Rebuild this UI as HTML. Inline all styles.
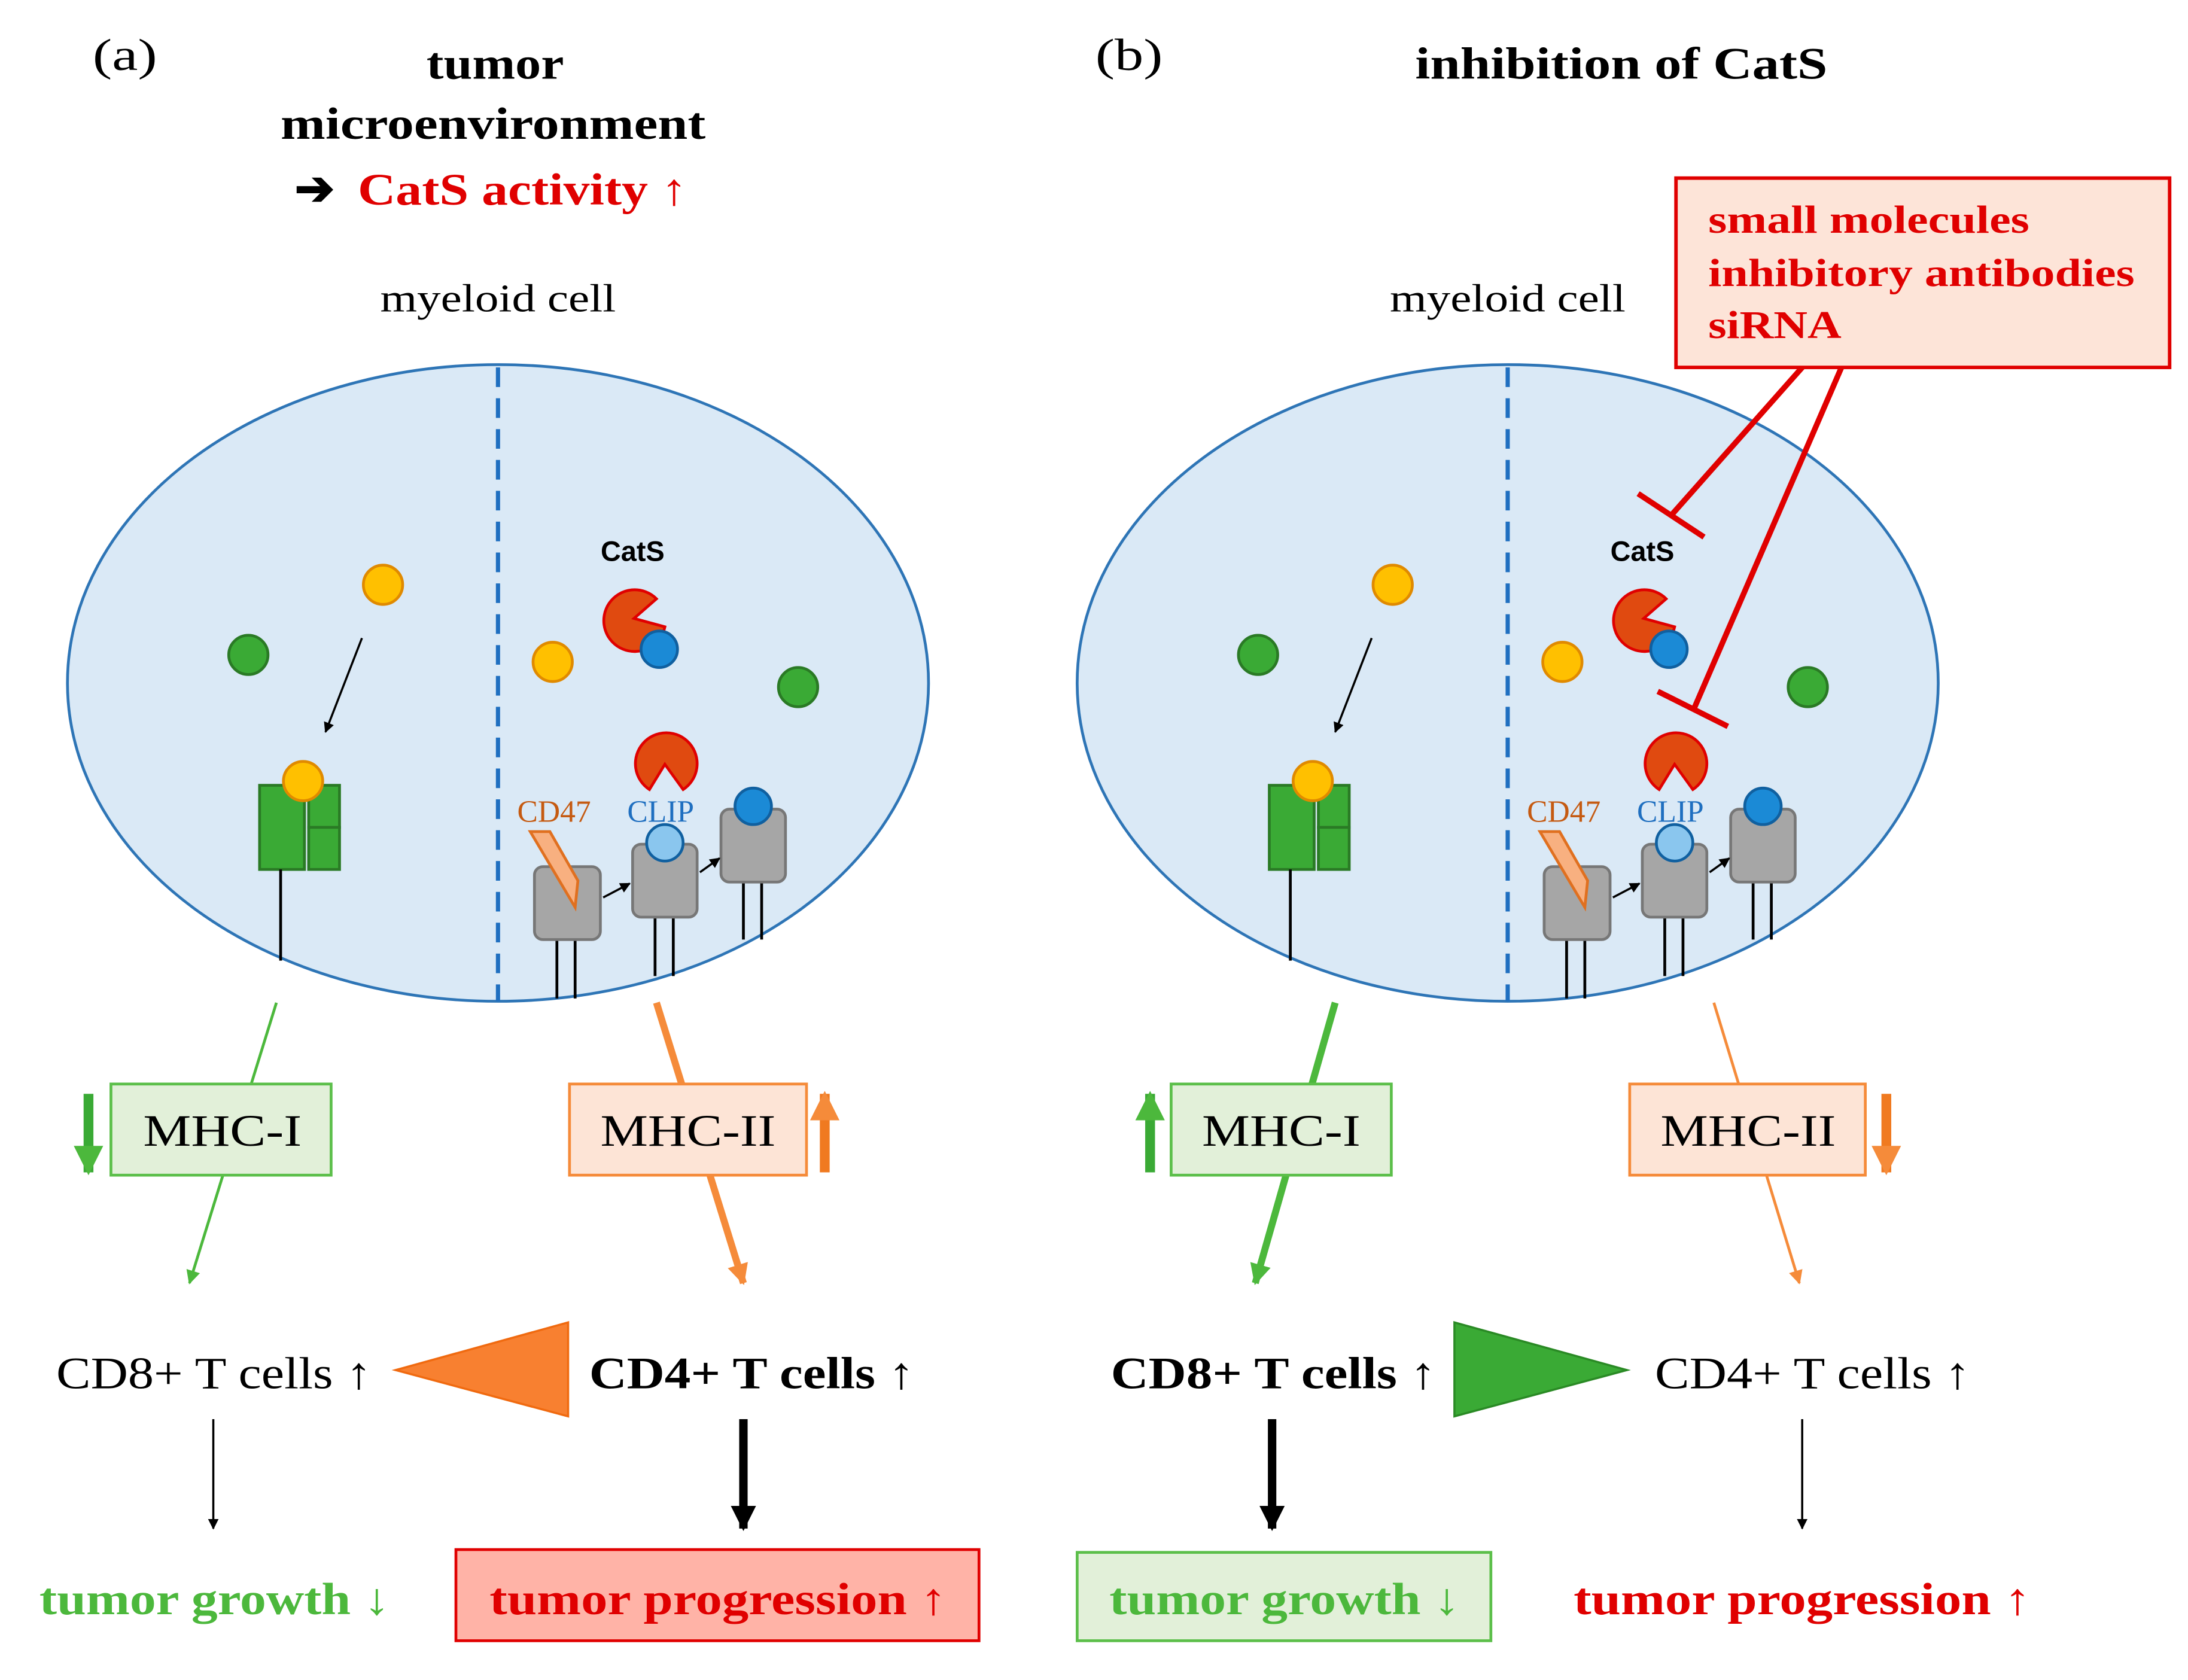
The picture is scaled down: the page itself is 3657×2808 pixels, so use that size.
<!DOCTYPE html>
<html><head><meta charset="utf-8"><style>html,body{margin:0;padding:0;background:#fff}svg{display:block}</style></head>
<body>
<svg width="3657" height="2808" viewBox="0 0 1560 1198" xmlns="http://www.w3.org/2000/svg" font-family="'Liberation Serif',serif">
<defs>
<marker id="ak" viewBox="0 0 10 10" refX="9" refY="5" markerWidth="5" markerHeight="5" orient="auto"><path d="M0,0L10,5L0,10z" fill="#000"/></marker>
<marker id="ag" viewBox="0 0 10 10" refX="9" refY="5" markerWidth="5" markerHeight="5" orient="auto"><path d="M0,0L10,5L0,10z" fill="#4cb83c"/></marker>
<marker id="ao" viewBox="0 0 10 10" refX="9" refY="5" markerWidth="5" markerHeight="5" orient="auto"><path d="M0,0L10,5L0,10z" fill="#f58b3a"/></marker>
<marker id="ak2" viewBox="0 0 10 10" refX="9" refY="5" markerWidth="3" markerHeight="3" orient="auto"><path d="M0,0L10,5L0,10z" fill="#000"/></marker>
<marker id="ag2" viewBox="0 0 10 10" refX="9" refY="5" markerWidth="3" markerHeight="3" orient="auto"><path d="M0,0L10,5L0,10z" fill="#4cb83c"/></marker>
<marker id="ao2" viewBox="0 0 10 10" refX="9" refY="5" markerWidth="3" markerHeight="3" orient="auto"><path d="M0,0L10,5L0,10z" fill="#f58b3a"/></marker>
<g id="cell">
<ellipse cx="355" cy="487" rx="307" ry="227" fill="#dae9f6" stroke="#2e75b6" stroke-width="2"/>
<line x1="355" y1="262" x2="355" y2="714" stroke="#1f6fc0" stroke-width="3" stroke-dasharray="14,8"/>
<circle cx="273" cy="417" r="14" fill="#ffc000" stroke="#e08a00" stroke-width="2"/>
<circle cx="177" cy="467" r="14" fill="#3aaa35" stroke="#2a7a25" stroke-width="2"/>
<line x1="258" y1="455" x2="232" y2="522" stroke="#000" stroke-width="1.5" marker-end="url(#ak)"/>
<rect x="185" y="560" width="32" height="60" fill="#3aaa35" stroke="#2a7a25" stroke-width="2"/>
<rect x="220" y="560" width="22" height="30" fill="#3aaa35" stroke="#2a7a25" stroke-width="2"/>
<rect x="220" y="590" width="22" height="30" fill="#3aaa35" stroke="#2a7a25" stroke-width="2"/>
<circle cx="216" cy="557" r="14" fill="#ffc000" stroke="#e08a00" stroke-width="2"/>
<line x1="200" y1="620" x2="200" y2="685" stroke="#000" stroke-width="2"/>
<text x="451" y="400" font-family="'Liberation Sans',sans-serif" font-size="20" font-weight="bold" text-anchor="middle">CatS</text>
<path d="M452,441 L468,427 A22,22 0 1 0 474,447 Z" fill="#e04a10" stroke="#e00000" stroke-width="2"/>
<circle cx="470" cy="463" r="13" fill="#1b8ad6" stroke="#1060a0" stroke-width="2"/>
<circle cx="394" cy="472" r="14" fill="#ffc000" stroke="#e08a00" stroke-width="2"/>
<circle cx="569" cy="490" r="14" fill="#3aaa35" stroke="#2a7a25" stroke-width="2"/>
<path d="M474,545 L463,563 A22,22 0 1 1 487,563 Z" fill="#e04a10" stroke="#e00000" stroke-width="2"/>
<text x="395" y="586" font-size="22" fill="#c55a11" text-anchor="middle">CD47</text>
<text x="471" y="586" font-size="22" fill="#1f6fc0" text-anchor="middle">CLIP</text>
<g stroke="#000" stroke-width="2">
<line x1="397" y1="668" x2="397" y2="712"/><line x1="410" y1="668" x2="410" y2="712"/>
<line x1="467" y1="652" x2="467" y2="696"/><line x1="480" y1="652" x2="480" y2="696"/>
<line x1="530" y1="626" x2="530" y2="670"/><line x1="543" y1="626" x2="543" y2="670"/>
</g>
<rect x="381" y="618" width="47" height="52" rx="6" fill="#a6a6a6" stroke="#777" stroke-width="2"/>
<rect x="451" y="602" width="46" height="52" rx="6" fill="#a6a6a6" stroke="#777" stroke-width="2"/>
<rect x="514" y="577" width="46" height="52" rx="6" fill="#a6a6a6" stroke="#777" stroke-width="2"/>
<polygon points="378,593 392,593 412,628 410,647" fill="#f8b080" stroke="#e07020" stroke-width="2"/>
<circle cx="474" cy="601" r="13" fill="#8ac6ee" stroke="#1060a0" stroke-width="2"/>
<circle cx="537" cy="575" r="13" fill="#1b8ad6" stroke="#1060a0" stroke-width="2"/>
<line x1="430" y1="640" x2="449" y2="630" stroke="#000" stroke-width="1.5" marker-end="url(#ak)"/>
<line x1="499" y1="622" x2="513" y2="612" stroke="#000" stroke-width="1.5" marker-end="url(#ak)"/>
</g>
</defs>

<g font-size="32">
<text x="66" y="50" textLength="46" lengthAdjust="spacingAndGlyphs">(a)</text>
<text x="781" y="50" textLength="48" lengthAdjust="spacingAndGlyphs">(b)</text>
<text x="304" y="56" font-weight="bold" textLength="98" lengthAdjust="spacingAndGlyphs">tumor</text>
<text x="200" y="99" font-weight="bold" textLength="303" lengthAdjust="spacingAndGlyphs">microenvironment</text>
<text x="210" y="146" font-weight="bold" font-size="34">➔</text>
<text x="255" y="146" font-weight="bold" fill="#e00000" textLength="235" lengthAdjust="spacingAndGlyphs">CatS activity ↑</text>
<text x="1009" y="56" font-weight="bold" textLength="294" lengthAdjust="spacingAndGlyphs">inhibition of CatS</text>
</g>
<text x="271" y="222" font-size="28" textLength="168" lengthAdjust="spacingAndGlyphs">myeloid cell</text>
<text x="991" y="222" font-size="28" textLength="168" lengthAdjust="spacingAndGlyphs">myeloid cell</text>

<use href="#cell"/>
<use href="#cell" x="720"/>

<rect x="1195" y="127" width="352" height="135" fill="#fde4d8" stroke="#e00000" stroke-width="2.5"/>
<g font-size="28" font-weight="bold" fill="#e00000">
<text x="1218" y="166" textLength="229" lengthAdjust="spacingAndGlyphs">small molecules</text>
<text x="1218" y="204" textLength="304" lengthAdjust="spacingAndGlyphs">inhibitory antibodies</text>
<text x="1218" y="241" textLength="95" lengthAdjust="spacingAndGlyphs">siRNA</text>
</g>
<g stroke="#e00000" stroke-width="4">
<line x1="1285" y1="262" x2="1192" y2="367"/><line x1="1168" y1="352" x2="1215" y2="383"/>
<line x1="1313" y1="262" x2="1208" y2="505"/><line x1="1182" y1="493" x2="1232" y2="518"/>
</g>

<!-- panel a bottom -->
<line x1="197" y1="715" x2="135" y2="915" stroke="#4cb83c" stroke-width="2" marker-end="url(#ag)"/>
<line x1="468" y1="715" x2="530" y2="915" stroke="#f58b3a" stroke-width="5" marker-end="url(#ao2)"/>
<rect x="79" y="773" width="157" height="65" fill="#e2f0d9" stroke="#5cbf4a" stroke-width="2"/>
<text x="102" y="817" font-size="32" textLength="113" lengthAdjust="spacingAndGlyphs">MHC-I</text>
<rect x="406" y="773" width="169" height="65" fill="#fde4d6" stroke="#f58b3a" stroke-width="2"/>
<text x="428" y="817" font-size="32" textLength="125" lengthAdjust="spacingAndGlyphs">MHC-II</text>
<line x1="63" y1="780" x2="63" y2="836" stroke="#3aaa35" stroke-width="7" marker-end="url(#ag2)"/>
<line x1="588" y1="836" x2="588" y2="780" stroke="#f07a20" stroke-width="7" marker-end="url(#ao2)"/>
<text x="40" y="990" font-size="32" textLength="225" lengthAdjust="spacingAndGlyphs">CD8+ T cells ↑</text>
<polygon points="282,977 405,943 405,1010" fill="#f88030" stroke="#f06a10" stroke-width="1.5"/>
<text x="420" y="990" font-size="32" font-weight="bold" textLength="232" lengthAdjust="spacingAndGlyphs">CD4+ T cells ↑</text>
<line x1="152" y1="1012" x2="152" y2="1090" stroke="#000" stroke-width="1.5" marker-end="url(#ak)"/>
<line x1="530" y1="1012" x2="530" y2="1090" stroke="#000" stroke-width="6" marker-end="url(#ak2)"/>
<text x="28" y="1151" font-size="32" font-weight="bold" fill="#4cb83c" textLength="250" lengthAdjust="spacingAndGlyphs">tumor growth ↓</text>
<rect x="325" y="1105" width="373" height="65" fill="#ffb3a7" stroke="#e00000" stroke-width="2"/>
<text x="349" y="1151" font-size="32" font-weight="bold" fill="#e00000" textLength="326" lengthAdjust="spacingAndGlyphs">tumor progression ↑</text>

<!-- panel b bottom -->
<line x1="952" y1="715" x2="895" y2="915" stroke="#4cb83c" stroke-width="5" marker-end="url(#ag2)"/>
<line x1="1222" y1="715" x2="1283" y2="915" stroke="#f58b3a" stroke-width="2" marker-end="url(#ao)"/>
<rect x="835" y="773" width="157" height="65" fill="#e2f0d9" stroke="#5cbf4a" stroke-width="2"/>
<text x="857" y="817" font-size="32" textLength="113" lengthAdjust="spacingAndGlyphs">MHC-I</text>
<rect x="1162" y="773" width="168" height="65" fill="#fde4d6" stroke="#f58b3a" stroke-width="2"/>
<text x="1184" y="817" font-size="32" textLength="125" lengthAdjust="spacingAndGlyphs">MHC-II</text>
<line x1="820" y1="836" x2="820" y2="780" stroke="#3aaa35" stroke-width="7" marker-end="url(#ag2)"/>
<line x1="1345" y1="780" x2="1345" y2="836" stroke="#f07a20" stroke-width="7" marker-end="url(#ao2)"/>
<text x="792" y="990" font-size="32" font-weight="bold" textLength="232" lengthAdjust="spacingAndGlyphs">CD8+ T cells ↑</text>
<polygon points="1037,943 1037,1010 1160,977" fill="#3aaa35" stroke="#2a8a25" stroke-width="1.5"/>
<text x="1180" y="990" font-size="32" textLength="225" lengthAdjust="spacingAndGlyphs">CD4+ T cells ↑</text>
<line x1="907" y1="1012" x2="907" y2="1090" stroke="#000" stroke-width="6" marker-end="url(#ak2)"/>
<line x1="1285" y1="1012" x2="1285" y2="1090" stroke="#000" stroke-width="1.5" marker-end="url(#ak)"/>
<rect x="768" y="1107" width="295" height="63" fill="#e2f0d9" stroke="#5cbf4a" stroke-width="2"/>
<text x="791" y="1151" font-size="32" font-weight="bold" fill="#4cb83c" textLength="250" lengthAdjust="spacingAndGlyphs">tumor growth ↓</text>
<text x="1122" y="1151" font-size="32" font-weight="bold" fill="#e00000" textLength="326" lengthAdjust="spacingAndGlyphs">tumor progression ↑</text>
</svg>
</body></html>
